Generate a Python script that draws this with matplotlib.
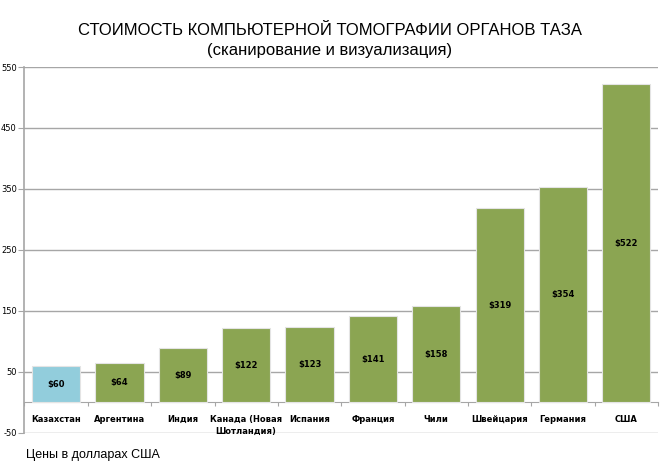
import matplotlib
matplotlib.use("Agg")
import matplotlib.pyplot as plt
import numpy as np

countries = ["Казахстан", "Аргентина", "Индия", "Канада (Новая\nШотландия)", "Испания",
             "Франция", "Чили", "Швейцария", "Германия", "США"]
prices = [60, 64, 89, 122, 123, 141, 158, 319, 354, 522]
yticks = [-50, 50, 150, 250, 350, 450, 550]

green = "#8BA552"
blue = "#92CDDC"
grid_col = "#A6A6A6"

fig = plt.figure(figsize=(6.6, 4.72), dpi=100)
ax = fig.add_axes([0.037, 0.083, 0.96, 0.775])

x = np.arange(len(countries))
colors = [blue] + [green] * (len(countries) - 1)
ax.bar(x, prices, width=0.76, color=colors, edgecolor="#E4E4E4", linewidth=0.8, zorder=3)

for xi, p in zip(x, prices):
    ax.text(xi, p / 2, f"${p}", ha="center", va="center", fontsize=6,
            fontweight="bold", color="black", zorder=4)
    ax.annotate(countries[xi], (xi, 0), xytext=(0, -9), textcoords="offset points",
                ha="center", va="top", fontsize=6, fontweight="bold",
                linespacing=1.5)

ax.set_xlim(-0.5, len(countries) - 0.5)
ax.set_ylim(-50, 550)
ax.set_yticks(yticks)
ax.set_yticklabels([str(t) for t in yticks], fontsize=6)
ax.yaxis.grid(True, color=grid_col, linewidth=1, zorder=0)
ax.tick_params(axis="y", length=4, color=grid_col, pad=1.5)

ax.spines["bottom"].set_position(("data", 0))
ax.spines["bottom"].set_color(grid_col)
ax.spines["left"].set_color(grid_col)
ax.spines["left"].set_linewidth(1.2)
ax.spines["top"].set_visible(False)
ax.spines["right"].set_visible(False)
ax.set_xticks(np.arange(len(countries) + 1) - 0.5)
ax.set_xticklabels([])
ax.tick_params(axis="x", length=3, color=grid_col)

fig.text(0.5, 0.935, "СТОИМОСТЬ КОМПЬЮТЕРНОЙ ТОМОГРАФИИ ОРГАНОВ ТАЗА",
         ha="center", va="center", fontsize=12, family="Liberation Sans")
fig.text(0.5, 0.893, "(сканирование и визуализация)",
         ha="center", va="center", fontsize=12, family="Liberation Sans")
fig.text(0.04, 0.036, "Цены в долларах США", ha="left", va="center",
         fontsize=9, family="Liberation Sans")

fig.savefig("out.png", dpi=100)
